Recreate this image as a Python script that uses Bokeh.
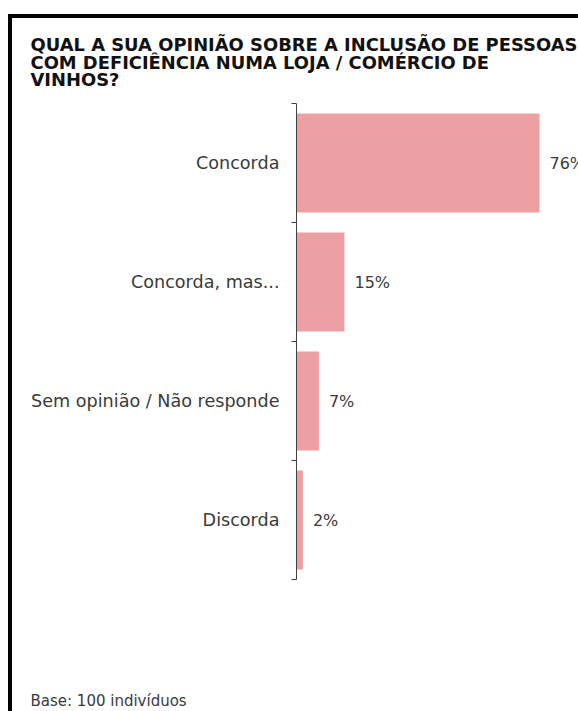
from bokeh.plotting import figure
from bokeh.models import Range1d, FixedTicker, Title, ColumnDataSource
from bokeh.core.properties import value
from bokeh.embed import file_html
from bokeh.resources import INLINE

categories = ["Concorda", "Concorda, mas...", "Sem opinião / Não responde", "Discorda"]
values = [76, 15, 7, 2]
value_labels = ["76%", "15%", "7%", "2%"]
title_lines = ["QUAL A SUA OPINIÃO SOBRE A INCLUSÃO DE PESSOAS",
               "COM DEFICIÊNCIA NUMA LOJA / COMÉRCIO DE",
               "VINHOS?"]
footer = "Base: 100 indivíduos"

OX, OY = 12, 18
W, H = 578 - OX, 711 - OY
FL, FT, FB = 296, 103, 580
n = len(categories)
ypos = [n - 1 - i for i in range(n)]
src = ColumnDataSource(dict(y=ypos, v=values, lab=value_labels, cat=categories))

FONT = "DejaVu Sans"
TXT = "#3a3a3a"

p = figure(width=W, height=H, output_backend="svg", toolbar_location=None,
           x_range=Range1d(0, 88.2), y_range=Range1d(-0.5, n - 0.5),
           min_border_left=FL - OX, min_border_right=0, min_border_top=FT - OY,
           min_border_bottom=711 - FB)
p.styles = {"margin-left": "%dpx" % OX, "margin-top": "%dpx" % OY,
            "box-shadow": "-4px 0 0 0 black, 0 -4px 0 0 black, -4px -4px 0 0 black"}
p.outline_line_color = None
p.grid.visible = False
p.xaxis.visible = False
p.background_fill_color = "white"
p.border_fill_color = "white"

p.hbar(y="y", right="v", left=0, height=0.83, source=src,
       fill_color="#EDA0A3", line_color=None)
p.text(x="v", y="y", text="lab", source=src, x_offset=10,
       text_font=value(FONT), text_font_size="16px", text_color=TXT,
       text_baseline="middle", text_align="left")

ya = p.yaxis[0]
ya.ticker = FixedTicker(ticks=ypos, minor_ticks=[i - 0.5 for i in range(n + 1)])
ya.major_label_overrides = {y: c for y, c in zip(ypos, categories)}
ya.major_tick_line_color = None
ya.minor_tick_in = 0
ya.minor_tick_out = 5
ya.minor_tick_line_color = "#404040"
ya.axis_line_color = "#404040"
ya.major_label_text_font = FONT
ya.major_label_text_font_size = "17.6px"
ya.major_label_text_color = TXT
ya.major_label_standoff = 11

p.add_layout(Title(text="\n".join(title_lines), align="left", offset=30 - FL,
                   standoff=26, text_line_height=0.856,
                   text_font=FONT, text_font_size="17.9px", text_font_style="bold",
                   text_color="#111111"), "above")
p.add_layout(Title(text="\n" * 6 + footer, align="left", offset=30 - FL,
                   standoff=2, text_line_height=1.018,
                   text_font=FONT, text_font_size="15px", text_font_style="normal",
                   text_color=TXT), "below")

open("out.html", "w").write(file_html(p, INLINE))
